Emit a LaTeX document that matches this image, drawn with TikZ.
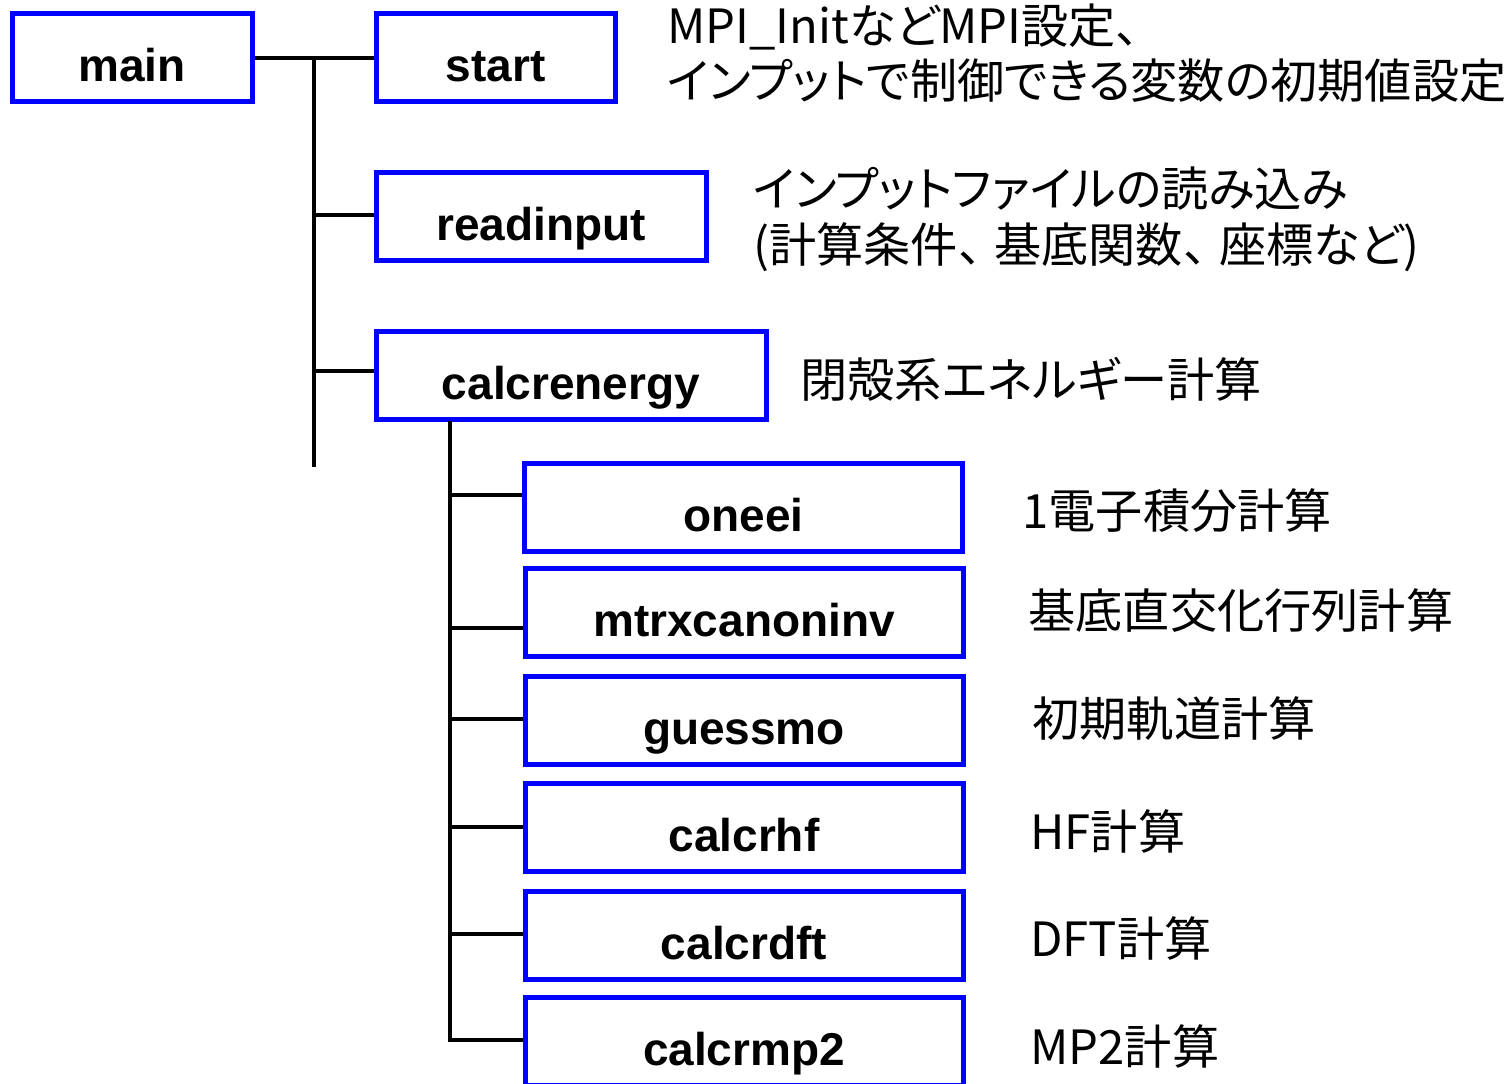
\documentclass[tikz,border=0pt]{standalone}
\usepackage{fontspec}
\setmainfont{Liberation Sans}
\newfontfamily\jp[RawFeature=+palt]{Noto Sans CJK JP}
\newfontfamily\jpw{Noto Sans CJK JP}
\newcommand\tten{{\jpw 、}}
\newcommand\ttenk{{\jpw 、}\kern-5.5pt}
\begin{document}
\begin{tikzpicture}[x=0.5pt,y=-0.5pt,
  box/.style={draw={rgb,255:red,0;green,0;blue,255}, line width=2.5pt, fill=white,
    font=\bfseries\fontsize{23}{23}\selectfont, text height=24pt, text depth=0pt,
    inner sep=0pt, minimum height=44pt},
  ann/.style={anchor=west, inner sep=0pt, align=left,
    font=\jp\fontsize{23.6}{27.8}\selectfont},
  conn/.style={line width=2pt, black}]
\useasboundingbox (0,0) rectangle (1507,1083);
\clip (0,0) rectangle (1507,1083);
% boxes
\node[box, minimum width=120pt] (main) at (132,57.5) {main};
\node[box, minimum width=119.5pt] (start) at (495.5,57.5) {start};
\node[box, minimum width=165pt] (readinput) at (541,216) {readinput};
\node[box, minimum width=195pt] (calcrenergy) at (571,375) {calcrenergy};
\node[box, minimum width=219pt] (oneei) at (743.5,507) {oneei};
\node[box, minimum width=219pt] (mtrx) at (744,612) {mtrxcanoninv};
\node[box, minimum width=219pt] (guessmo) at (744,720) {guessmo};
\node[box, minimum width=219pt] (calcrhf) at (744,827) {calcrhf};
\node[box, minimum width=219pt] (calcrdft) at (744,935) {calcrdft};
\node[box, minimum width=219pt] (calcrmp2) at (744,1041) {calcrmp2};
% connectors, level 1
\coordinate (t1) at (314,58);
\coordinate (t1e) at (314,467);
\coordinate (k2) at (314,215);
\coordinate (k3) at (314,371);
\draw[conn] (main.east) -- (start.west);
\draw[conn] (t1) -- (t1e);
\draw[conn] (k2) -- (k2 -| readinput.west);
\draw[conn] (k3) -- (k3 -| calcrenergy.west);
% connectors, level 2
\coordinate (t2) at (450,421);
\coordinate (j1) at (450,495);
\coordinate (j2) at (450,628);
\coordinate (j3) at (450,719);
\coordinate (j4) at (450,827);
\coordinate (j5) at (450,934);
\coordinate (j6) at (450,1040);
\draw[conn] (t2) -- (j6) -- (j6 -| calcrmp2.west);
\draw[conn] (j1) -- (j1 -| oneei.west);
\draw[conn] (j2) -- (j2 -| mtrx.west);
\draw[conn] (j3) -- (j3 -| guessmo.west);
\draw[conn] (j4) -- (j4 -| calcrhf.west);
\draw[conn] (j5) -- (j5 -| calcrdft.west);
% annotations
\node[ann] (a1) at (667,53) {MPI\_InitなどMPI設定\tten\\インプットで制御できる変数の初期値設定};
\node[ann] (a2) at (753,219) {インプットファイルの読み込み\\(計算条件\ttenk 基底関数\ttenk 座標など)};
\node[ann] (a3) at (800,379) {閉殻系エネルギー計算};
\node[ann] (a4) at (1022,511) {1電子積分計算};
\node[ann] (a5) at (1028,611) {基底直交化行列計算};
\node[ann] (a6) at (1032,719) {初期軌道計算};
\node[ann] (a7) at (1030,831) {HF計算};
\node[ann] (a8) at (1030,938) {DFT計算};
\node[ann] (a9) at (1030,1046) {MP2計算};
\end{tikzpicture}
\end{document}
